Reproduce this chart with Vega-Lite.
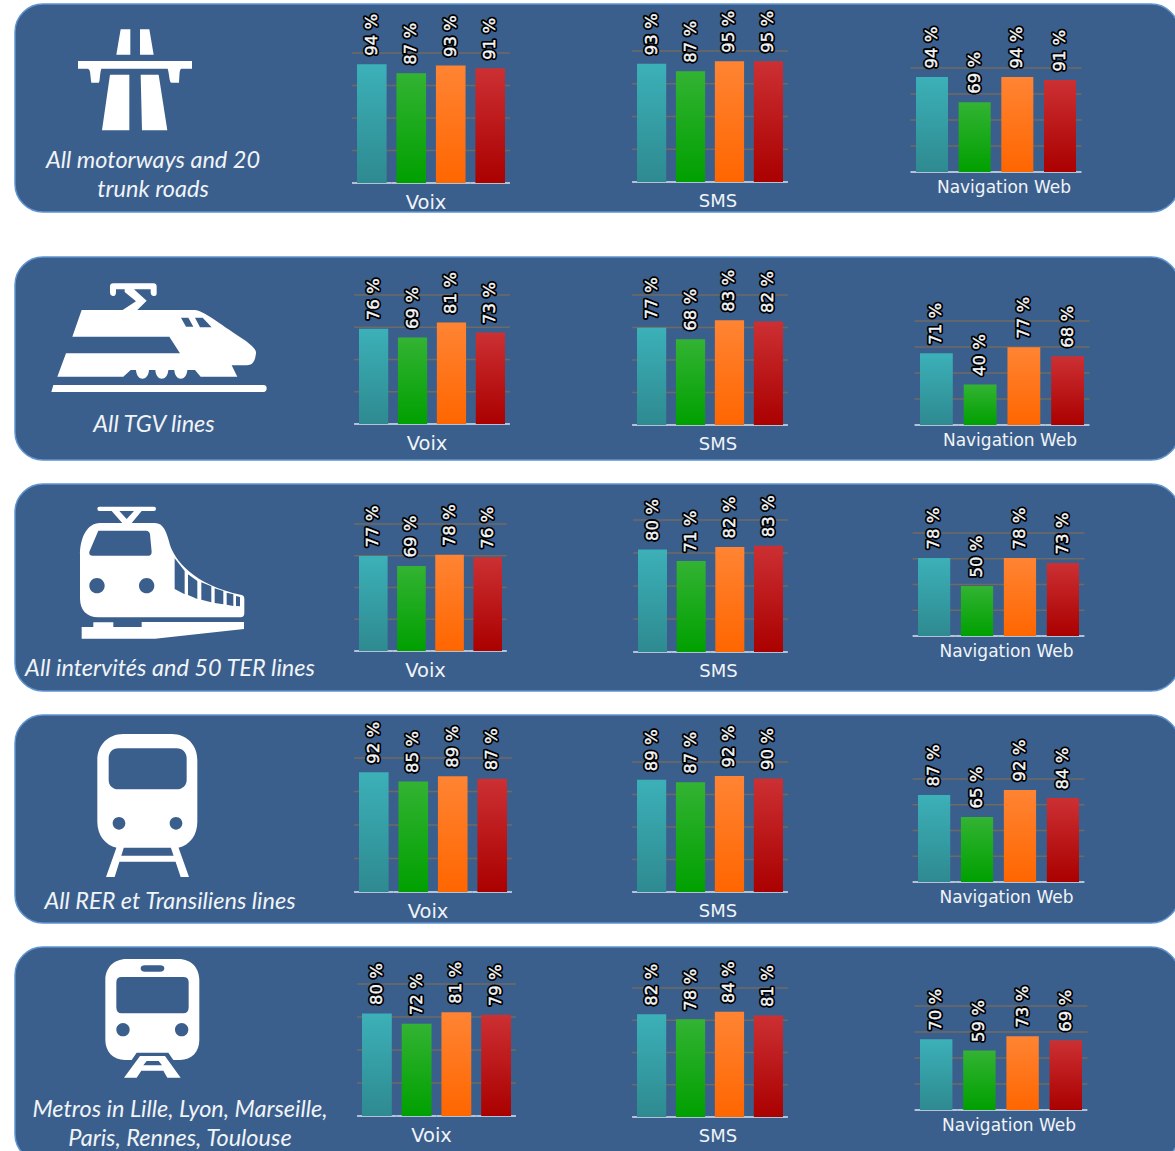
{"$schema":"https://vega.github.io/schema/vega-lite/v6.json","padding":{"left":14,"top":3,"right":0,"bottom":0},"background":"white","bounds":"flush","spacing":45,
"params":[{"name":"g1","expr":"{gradient:'linear',x1:0,y1:0,x2:0,y2:1,stops:[{offset:0,color:'#3cb0b8'},{offset:1,color:'#2e8a90'}]}"},{"name":"g2","expr":"{gradient:'linear',x1:0,y1:0,x2:0,y2:1,stops:[{offset:0,color:'#33b333'},{offset:1,color:'#00a000'}]}"},{"name":"g3","expr":"{gradient:'linear',x1:0,y1:0,x2:0,y2:1,stops:[{offset:0,color:'#ff8433'},{offset:1,color:'#ff6600'}]}"},{"name":"g4","expr":"{gradient:'linear',x1:0,y1:0,x2:0,y2:1,stops:[{offset:0,color:'#cc3033'},{offset:1,color:'#aa0000'}]}"}],
"config":{"axis":{"disable":true},"legend":{"disable":true},"view":{"fill":"#3b5f8c","stroke":"#5f94cf","strokeWidth":1.5,"cornerRadius":28},"tick":{"thickness":1.5,"opacity":1},"point":{"filled":true,"opacity":1,"color":"white","size":0.4444},"text":{"color":"#f0f4f8"},
"style":{"halo":{"font":"DejaVu Sans","fontSize":16.5,"stroke":"black","strokeWidth":4,"strokeJoin":"round","angle":270,"align":"left","baseline":"middle","dx":8.5},"val":{"font":"DejaVu Sans","fontSize":16.5,"stroke":"white","strokeWidth":0.4,"angle":270,"align":"left","baseline":"middle","dx":8.5},"tV":{"font":"DejaVu Sans","fontSize":19.5,"align":"center","baseline":"middle","dx":-5,"dy":20},"tS":{"font":"DejaVu Sans","fontSize":18,"align":"center","baseline":"middle","dx":8,"dy":20},"tW":{"font":"DejaVu Sans","fontSize":17,"align":"center","baseline":"middle","dx":8,"dy":16},"cap":{"font":"Lato","fontSize":23.5,"fontStyle":"italic","align":"center","baseline":"middle","lineBreak":"|","lineHeight":29}}},
"datasets":{"grid":[{"op":"Bouygues","level":0},{"op":"Free","level":0},{"op":"Orange","level":0},{"op":"SFR","level":0},{"op":"Bouygues","level":25.75},{"op":"Free","level":25.75},{"op":"Orange","level":25.75},{"op":"SFR","level":25.75},{"op":"Bouygues","level":51.5},{"op":"Free","level":51.5},{"op":"Orange","level":51.5},{"op":"SFR","level":51.5},{"op":"Bouygues","level":77.25},{"op":"Free","level":77.25},{"op":"Orange","level":77.25},{"op":"SFR","level":77.25},{"op":"Bouygues","level":103},{"op":"Free","level":103},{"op":"Orange","level":103},{"op":"SFR","level":103}],
"r1":[{"metric":"Voix","op":"Bouygues","value":94},{"metric":"Voix","op":"Free","value":87},{"metric":"Voix","op":"Orange","value":93},{"metric":"Voix","op":"SFR","value":91},{"metric":"SMS","op":"Bouygues","value":93},{"metric":"SMS","op":"Free","value":87},{"metric":"SMS","op":"Orange","value":95},{"metric":"SMS","op":"SFR","value":95},{"metric":"Web","op":"Bouygues","value":94},{"metric":"Web","op":"Free","value":69},{"metric":"Web","op":"Orange","value":94},{"metric":"Web","op":"SFR","value":91}],
"r2":[{"metric":"Voix","op":"Bouygues","value":76},{"metric":"Voix","op":"Free","value":69},{"metric":"Voix","op":"Orange","value":81},{"metric":"Voix","op":"SFR","value":73},{"metric":"SMS","op":"Bouygues","value":77},{"metric":"SMS","op":"Free","value":68},{"metric":"SMS","op":"Orange","value":83},{"metric":"SMS","op":"SFR","value":82},{"metric":"Web","op":"Bouygues","value":71},{"metric":"Web","op":"Free","value":40},{"metric":"Web","op":"Orange","value":77},{"metric":"Web","op":"SFR","value":68}],
"r3":[{"metric":"Voix","op":"Bouygues","value":77},{"metric":"Voix","op":"Free","value":69},{"metric":"Voix","op":"Orange","value":78},{"metric":"Voix","op":"SFR","value":76},{"metric":"SMS","op":"Bouygues","value":80},{"metric":"SMS","op":"Free","value":71},{"metric":"SMS","op":"Orange","value":82},{"metric":"SMS","op":"SFR","value":83},{"metric":"Web","op":"Bouygues","value":78},{"metric":"Web","op":"Free","value":50},{"metric":"Web","op":"Orange","value":78},{"metric":"Web","op":"SFR","value":73}],
"r4":[{"metric":"Voix","op":"Bouygues","value":92},{"metric":"Voix","op":"Free","value":85},{"metric":"Voix","op":"Orange","value":89},{"metric":"Voix","op":"SFR","value":87},{"metric":"SMS","op":"Bouygues","value":89},{"metric":"SMS","op":"Free","value":87},{"metric":"SMS","op":"Orange","value":92},{"metric":"SMS","op":"SFR","value":90},{"metric":"Web","op":"Bouygues","value":87},{"metric":"Web","op":"Free","value":65},{"metric":"Web","op":"Orange","value":92},{"metric":"Web","op":"SFR","value":84}],
"r5":[{"metric":"Voix","op":"Bouygues","value":80},{"metric":"Voix","op":"Free","value":72},{"metric":"Voix","op":"Orange","value":81},{"metric":"Voix","op":"SFR","value":79},{"metric":"SMS","op":"Bouygues","value":82},{"metric":"SMS","op":"Free","value":78},{"metric":"SMS","op":"Orange","value":84},{"metric":"SMS","op":"SFR","value":81},{"metric":"Web","op":"Bouygues","value":70},{"metric":"Web","op":"Free","value":59},{"metric":"Web","op":"Orange","value":73},{"metric":"Web","op":"SFR","value":69}]},
"vconcat":[
{"width":1164,"height":208,"data":{"values":[{"label":"All motorways and 20|trunk roads"}]},"resolve":{"scale":{"x":"independent","y":"independent"}},"layer":[
{"mark":{"type":"point","shape":"M272 58H301V134H259Z M330 58H358L371 134H330Z M144 153H486V176H455C448 176 449 190 447 218H424C418 218 418 190 413 176H214C209 190 210 218 206 218H184C180 190 182 176 172 176H144Z M240 194H298V361H216Z M332 194H386L412 361H336Z"},"encoding":{"x":{"field":"label","type":"nominal","scale":{"type":"point","range":[5,25]}},"y":{"field":"label","type":"nominal","scale":{"type":"point","range":[-4,16]}}}},
{"mark":{"type":"text","style":"cap"},"encoding":{"text":{"field":"label"},"x":{"field":"label","type":"nominal","scale":{"type":"point","range":[128,148]}},"y":{"field":"label","type":"nominal","scale":{"type":"point","range":[147,167]}}}},
{"data":{"name":"r1"},"transform":[{"filter":"datum.metric=='Voix'"},{"calculate":"datum.value+' %'","as":"label"}],"encoding":{"x":{"field":"op","type":"nominal","scale":{"type":"band","range":[342,490],"paddingInner":0.25,"paddingOuter":0}},"y":{"field":"value","type":"quantitative","stack":null,"scale":{"domain":[0,103],"range":[179,49],"nice":false}}},"layer":[
{"data":{"name":"grid"},"mark":{"type":"tick","size":39.5},"encoding":{"y":{"field":"level","type":"quantitative"},"color":{"condition":{"test":"datum.level==0","value":"#dbe4ef"},"value":"#6f6a62"}}},
{"mark":"bar","encoding":{"fill":{"field":"op","type":"nominal","scale":{"range":[{"expr":"g1"},{"expr":"g2"},{"expr":"g3"},{"expr":"g4"}]}}}},
{"mark":{"type":"text","style":"halo","fill":"black"},"encoding":{"text":{"field":"label"}}},
{"mark":{"type":"text","style":"val"},"encoding":{"text":{"field":"label"}}},
{"data":{"name":"grid"},"transform":[{"filter":"datum.level==0&&datum.op=='Free'"}],"mark":{"type":"text","style":"tV"},"encoding":{"text":{"value":"Voix"},"y":{"field":"level","type":"quantitative"},"x":{"field":"op","type":"nominal","bandPosition":1.1667,"scale":{"type":"band"}}}}]},
{"data":{"name":"r1"},"transform":[{"filter":"datum.metric=='SMS'"},{"calculate":"datum.value+' %'","as":"label"}],"encoding":{"x":{"field":"op","type":"nominal","scale":{"type":"band","range":[622,768],"paddingInner":0.25,"paddingOuter":0}},"y":{"field":"value","type":"quantitative","stack":null,"scale":{"domain":[0,103],"range":[178,47],"nice":false}}},"layer":[
{"data":{"name":"grid"},"mark":{"type":"tick","size":39},"encoding":{"y":{"field":"level","type":"quantitative"},"color":{"condition":{"test":"datum.level==0","value":"#dbe4ef"},"value":"#6f6a62"}}},
{"mark":"bar","encoding":{"fill":{"field":"op","type":"nominal"}}},
{"mark":{"type":"text","style":"halo","fill":"black"},"encoding":{"text":{"field":"label"}}},
{"mark":{"type":"text","style":"val"},"encoding":{"text":{"field":"label"}}},
{"data":{"name":"grid"},"transform":[{"filter":"datum.level==0&&datum.op=='Free'"}],"mark":{"type":"text","style":"tS"},"encoding":{"text":{"value":"SMS"},"y":{"field":"level","type":"quantitative"},"x":{"field":"op","type":"nominal","bandPosition":1.1667,"scale":{"type":"band"}}}}]},
{"data":{"name":"r1"},"transform":[{"filter":"datum.metric=='Web'"},{"calculate":"datum.value+' %'","as":"label"}],"encoding":{"x":{"field":"op","type":"nominal","scale":{"type":"band","range":[901,1061],"paddingInner":0.25,"paddingOuter":0}},"y":{"field":"value","type":"quantitative","stack":null,"scale":{"domain":[0,103],"range":[168,64],"nice":false}}},"layer":[
{"data":{"name":"grid"},"mark":{"type":"tick","size":43},"encoding":{"y":{"field":"level","type":"quantitative"},"color":{"condition":{"test":"datum.level==0","value":"#dbe4ef"},"value":"#6f6a62"}}},
{"mark":"bar","encoding":{"fill":{"field":"op","type":"nominal"}}},
{"mark":{"type":"text","style":"halo","fill":"black"},"encoding":{"text":{"field":"label"}}},
{"mark":{"type":"text","style":"val"},"encoding":{"text":{"field":"label"}}},
{"data":{"name":"grid"},"transform":[{"filter":"datum.level==0&&datum.op=='Free'"}],"mark":{"type":"text","style":"tW"},"encoding":{"text":{"value":"Navigation Web"},"y":{"field":"level","type":"quantitative"},"x":{"field":"op","type":"nominal","bandPosition":1.1667,"scale":{"type":"band"}}}}]}]},
{"bounds":"flush","spacing":24,"vconcat":[
{"width":1164,"height":203,"data":{"values":[{"label":"All TGV lines"}]},"resolve":{"scale":{"x":"independent","y":"independent"}},"layer":[
{"mark":{"type":"point","shape":"M250 40H370Q380 40 380 50V70Q380 80 370 78Q362 76 362 66V58H312L350 92L322 120H278L318 94L284 66V58H258V66Q258 80 248 78Q240 76 240 68V50Q240 40 250 40Z M155 120H495C520 122 560 155 640 208C665 225 680 240 678 250C675 275 668 286 650 286H605L622 320H512L495 300H472C470 335 435 335 433 300H415C413 335 378 335 376 300H357C355 335 320 335 318 300H302L280 320H82L108 250H450L418 200H127Z M453 143L468 170H490L475 143Z M495 143L510 172H545L518 143Z M70 345H700Q710 345 710 355Q710 366 700 366H64Z"},"encoding":{"x":{"field":"label","type":"nominal","scale":{"type":"point","range":[5,25]}},"y":{"field":"label","type":"nominal","scale":{"type":"point","range":[3,23]}}}},
{"mark":{"type":"text","style":"cap"},"encoding":{"text":{"field":"label"},"x":{"field":"label","type":"nominal","scale":{"type":"point","range":[129,149]}},"y":{"field":"label","type":"nominal","scale":{"type":"point","range":[158,178]}}}},
{"data":{"name":"r2"},"transform":[{"filter":"datum.metric=='Voix'"},{"calculate":"datum.value+' %'","as":"label"}],"encoding":{"x":{"field":"op","type":"nominal","scale":{"type":"band","range":[344,490],"paddingInner":0.25,"paddingOuter":0}},"y":{"field":"value","type":"quantitative","stack":null,"scale":{"domain":[0,103],"range":[167,38],"nice":false}}},"layer":[
{"data":{"name":"grid"},"mark":{"type":"tick","size":39},"encoding":{"y":{"field":"level","type":"quantitative"},"color":{"condition":{"test":"datum.level==0","value":"#dbe4ef"},"value":"#6f6a62"}}},
{"mark":"bar","encoding":{"fill":{"field":"op","type":"nominal","scale":{"range":[{"expr":"g1"},{"expr":"g2"},{"expr":"g3"},{"expr":"g4"}]}}}},
{"mark":{"type":"text","style":"halo","fill":"black"},"encoding":{"text":{"field":"label"}}},
{"mark":{"type":"text","style":"val"},"encoding":{"text":{"field":"label"}}},
{"data":{"name":"grid"},"transform":[{"filter":"datum.level==0&&datum.op=='Free'"}],"mark":{"type":"text","style":"tV"},"encoding":{"text":{"value":"Voix"},"y":{"field":"level","type":"quantitative"},"x":{"field":"op","type":"nominal","bandPosition":1.1667,"scale":{"type":"band"}}}}]},
{"data":{"name":"r2"},"transform":[{"filter":"datum.metric=='SMS'"},{"calculate":"datum.value+' %'","as":"label"}],"encoding":{"x":{"field":"op","type":"nominal","scale":{"type":"band","range":[622,768],"paddingInner":0.25,"paddingOuter":0}},"y":{"field":"value","type":"quantitative","stack":null,"scale":{"domain":[0,103],"range":[168,38],"nice":false}}},"layer":[
{"data":{"name":"grid"},"mark":{"type":"tick","size":39},"encoding":{"y":{"field":"level","type":"quantitative"},"color":{"condition":{"test":"datum.level==0","value":"#dbe4ef"},"value":"#6f6a62"}}},
{"mark":"bar","encoding":{"fill":{"field":"op","type":"nominal"}}},
{"mark":{"type":"text","style":"halo","fill":"black"},"encoding":{"text":{"field":"label"}}},
{"mark":{"type":"text","style":"val"},"encoding":{"text":{"field":"label"}}},
{"data":{"name":"grid"},"transform":[{"filter":"datum.level==0&&datum.op=='Free'"}],"mark":{"type":"text","style":"tS"},"encoding":{"text":{"value":"SMS"},"y":{"field":"level","type":"quantitative"},"x":{"field":"op","type":"nominal","bandPosition":1.1667,"scale":{"type":"band"}}}}]},
{"data":{"name":"r2"},"transform":[{"filter":"datum.metric=='Web'"},{"calculate":"datum.value+' %'","as":"label"}],"encoding":{"x":{"field":"op","type":"nominal","scale":{"type":"band","range":[905,1069],"paddingInner":0.25,"paddingOuter":0}},"y":{"field":"value","type":"quantitative","stack":null,"scale":{"domain":[0,103],"range":[168,64],"nice":false}}},"layer":[
{"data":{"name":"grid"},"mark":{"type":"tick","size":43.7},"encoding":{"y":{"field":"level","type":"quantitative"},"color":{"condition":{"test":"datum.level==0","value":"#dbe4ef"},"value":"#6f6a62"}}},
{"mark":"bar","encoding":{"fill":{"field":"op","type":"nominal"}}},
{"mark":{"type":"text","style":"halo","fill":"black"},"encoding":{"text":{"field":"label"}}},
{"mark":{"type":"text","style":"val"},"encoding":{"text":{"field":"label"}}},
{"data":{"name":"grid"},"transform":[{"filter":"datum.level==0&&datum.op=='Free'"}],"mark":{"type":"text","style":"tW"},"encoding":{"text":{"value":"Navigation Web"},"y":{"field":"level","type":"quantitative"},"x":{"field":"op","type":"nominal","bandPosition":1.1667,"scale":{"type":"band"}}}}]}]},
{"width":1164,"height":207,"data":{"values":[{"label":"All intervités and 50 TER lines"}]},"resolve":{"scale":{"x":"independent","y":"independent"}},"layer":[
{"mark":{"type":"point","shape":"M118 35H282Q288 35 288 41Q288 48 282 48H118Q112 48 112 41Q112 35 118 35Z M155 48H245L212 88H190Z M178 48L200 72L222 48Z M120 84H285C310 84 320 110 330 150C345 195 400 270 545 300Q553 302 553 312V355Q553 367 541 367H115C80 367 60 345 60 310V180C60 130 80 84 120 84Z M115 107L88 170Q86 182 98 182H265Q275 182 275 170L270 118Q268 107 258 107Z M88 272A23 23 0 0 0 134 272A23 23 0 0 0 88 272Z M237 272A23 23 0 0 0 283 272A23 23 0 0 0 237 272Z M344 190V282L374 298V228Z M384 238V300L412 312V258Z M424 262V314L454 322V274Z M464 280V324L490 328V288Z M500 293V329L520 333V298Z M528 303V333L540 334V306Z M100 382H160V396H245V381H552V402L285 431H65V396H100Z"},"encoding":{"x":{"field":"label","type":"nominal","scale":{"type":"point","range":[35,55]}},"y":{"field":"label","type":"nominal","scale":{"type":"point","range":[1,21]}}}},
{"mark":{"type":"text","style":"cap"},"encoding":{"text":{"field":"label"},"x":{"field":"label","type":"nominal","scale":{"type":"point","range":[145,165]}},"y":{"field":"label","type":"nominal","scale":{"type":"point","range":[175,195]}}}},
{"data":{"name":"r3"},"transform":[{"filter":"datum.metric=='Voix'"},{"calculate":"datum.value+' %'","as":"label"}],"encoding":{"x":{"field":"op","type":"nominal","scale":{"type":"band","range":[344,487],"paddingInner":0.25,"paddingOuter":0}},"y":{"field":"value","type":"quantitative","stack":null,"scale":{"domain":[0,103],"range":[167,40],"nice":false}}},"layer":[
{"data":{"name":"grid"},"mark":{"type":"tick","size":38.2},"encoding":{"y":{"field":"level","type":"quantitative"},"color":{"condition":{"test":"datum.level==0","value":"#dbe4ef"},"value":"#6f6a62"}}},
{"mark":"bar","encoding":{"fill":{"field":"op","type":"nominal","scale":{"range":[{"expr":"g1"},{"expr":"g2"},{"expr":"g3"},{"expr":"g4"}]}}}},
{"mark":{"type":"text","style":"halo","fill":"black"},"encoding":{"text":{"field":"label"}}},
{"mark":{"type":"text","style":"val"},"encoding":{"text":{"field":"label"}}},
{"data":{"name":"grid"},"transform":[{"filter":"datum.level==0&&datum.op=='Free'"}],"mark":{"type":"text","style":"tV"},"encoding":{"text":{"value":"Voix"},"y":{"field":"level","type":"quantitative"},"x":{"field":"op","type":"nominal","bandPosition":1.1667,"scale":{"type":"band"}}}}]},
{"data":{"name":"r3"},"transform":[{"filter":"datum.metric=='SMS'"},{"calculate":"datum.value+' %'","as":"label"}],"encoding":{"x":{"field":"op","type":"nominal","scale":{"type":"band","range":[623,768],"paddingInner":0.25,"paddingOuter":0}},"y":{"field":"value","type":"quantitative","stack":null,"scale":{"domain":[0,103],"range":[168,36],"nice":false}}},"layer":[
{"data":{"name":"grid"},"mark":{"type":"tick","size":38.7},"encoding":{"y":{"field":"level","type":"quantitative"},"color":{"condition":{"test":"datum.level==0","value":"#dbe4ef"},"value":"#6f6a62"}}},
{"mark":"bar","encoding":{"fill":{"field":"op","type":"nominal"}}},
{"mark":{"type":"text","style":"halo","fill":"black"},"encoding":{"text":{"field":"label"}}},
{"mark":{"type":"text","style":"val"},"encoding":{"text":{"field":"label"}}},
{"data":{"name":"grid"},"transform":[{"filter":"datum.level==0&&datum.op=='Free'"}],"mark":{"type":"text","style":"tS"},"encoding":{"text":{"value":"SMS"},"y":{"field":"level","type":"quantitative"},"x":{"field":"op","type":"nominal","bandPosition":1.1667,"scale":{"type":"band"}}}}]},
{"data":{"name":"r3"},"transform":[{"filter":"datum.metric=='Web'"},{"calculate":"datum.value+' %'","as":"label"}],"encoding":{"x":{"field":"op","type":"nominal","scale":{"type":"band","range":[903,1064],"paddingInner":0.25,"paddingOuter":0}},"y":{"field":"value","type":"quantitative","stack":null,"scale":{"domain":[0,103],"range":[152,49],"nice":false}}},"layer":[
{"data":{"name":"grid"},"mark":{"type":"tick","size":43},"encoding":{"y":{"field":"level","type":"quantitative"},"color":{"condition":{"test":"datum.level==0","value":"#dbe4ef"},"value":"#6f6a62"}}},
{"mark":"bar","encoding":{"fill":{"field":"op","type":"nominal"}}},
{"mark":{"type":"text","style":"halo","fill":"black"},"encoding":{"text":{"field":"label"}}},
{"mark":{"type":"text","style":"val"},"encoding":{"text":{"field":"label"}}},
{"data":{"name":"grid"},"transform":[{"filter":"datum.level==0&&datum.op=='Free'"}],"mark":{"type":"text","style":"tW"},"encoding":{"text":{"value":"Navigation Web"},"y":{"field":"level","type":"quantitative"},"x":{"field":"op","type":"nominal","bandPosition":1.1667,"scale":{"type":"band"}}}}]}]},
{"width":1164,"height":208,"data":{"values":[{"label":"All RER et Transiliens lines"}]},"resolve":{"scale":{"x":"independent","y":"independent"}},"layer":[
{"mark":{"type":"point","shape":"M130 27H275C320 27 352 60 352 105V290C352 330 330 360 295 368H110C75 360 52 330 52 290V105C52 60 85 27 130 27Z M115 70C98 70 86 82 86 100V165C86 182 98 193 115 193H290C307 193 320 182 320 165V100C320 82 307 70 290 70Z M98 295A19 19 0 0 0 136 295A19 19 0 0 0 98 295Z M269 295A19 19 0 0 0 307 295A19 19 0 0 0 269 295Z M110 366H132L104 456H78Z M272 366H295L327 456H302Z M122 392H285L291 410H116Z"},"encoding":{"x":{"field":"label","type":"nominal","scale":{"type":"point","range":[55,75]}},"y":{"field":"label","type":"nominal","scale":{"type":"point","range":[0,20]}}}},
{"mark":{"type":"text","style":"cap"},"encoding":{"text":{"field":"label"},"x":{"field":"label","type":"nominal","scale":{"type":"point","range":[145,165]}},"y":{"field":"label","type":"nominal","scale":{"type":"point","range":[177,197]}}}},
{"data":{"name":"r4"},"transform":[{"filter":"datum.metric=='Voix'"},{"calculate":"datum.value+' %'","as":"label"}],"encoding":{"x":{"field":"op","type":"nominal","scale":{"type":"band","range":[344,492],"paddingInner":0.25,"paddingOuter":0}},"y":{"field":"value","type":"quantitative","stack":null,"scale":{"domain":[0,103],"range":[177,43],"nice":false}}},"layer":[
{"data":{"name":"grid"},"mark":{"type":"tick","size":39.5},"encoding":{"y":{"field":"level","type":"quantitative"},"color":{"condition":{"test":"datum.level==0","value":"#dbe4ef"},"value":"#6f6a62"}}},
{"mark":"bar","encoding":{"fill":{"field":"op","type":"nominal","scale":{"range":[{"expr":"g1"},{"expr":"g2"},{"expr":"g3"},{"expr":"g4"}]}}}},
{"mark":{"type":"text","style":"halo","fill":"black"},"encoding":{"text":{"field":"label"}}},
{"mark":{"type":"text","style":"val"},"encoding":{"text":{"field":"label"}}},
{"data":{"name":"grid"},"transform":[{"filter":"datum.level==0&&datum.op=='Free'"}],"mark":{"type":"text","style":"tV"},"encoding":{"text":{"value":"Voix"},"y":{"field":"level","type":"quantitative"},"x":{"field":"op","type":"nominal","bandPosition":1.1667,"scale":{"type":"band"}}}}]},
{"data":{"name":"r4"},"transform":[{"filter":"datum.metric=='SMS'"},{"calculate":"datum.value+' %'","as":"label"}],"encoding":{"x":{"field":"op","type":"nominal","scale":{"type":"band","range":[622,768],"paddingInner":0.25,"paddingOuter":0}},"y":{"field":"value","type":"quantitative","stack":null,"scale":{"domain":[0,103],"range":[177,47],"nice":false}}},"layer":[
{"data":{"name":"grid"},"mark":{"type":"tick","size":39},"encoding":{"y":{"field":"level","type":"quantitative"},"color":{"condition":{"test":"datum.level==0","value":"#dbe4ef"},"value":"#6f6a62"}}},
{"mark":"bar","encoding":{"fill":{"field":"op","type":"nominal"}}},
{"mark":{"type":"text","style":"halo","fill":"black"},"encoding":{"text":{"field":"label"}}},
{"mark":{"type":"text","style":"val"},"encoding":{"text":{"field":"label"}}},
{"data":{"name":"grid"},"transform":[{"filter":"datum.level==0&&datum.op=='Free'"}],"mark":{"type":"text","style":"tS"},"encoding":{"text":{"value":"SMS"},"y":{"field":"level","type":"quantitative"},"x":{"field":"op","type":"nominal","bandPosition":1.1667,"scale":{"type":"band"}}}}]},
{"data":{"name":"r4"},"transform":[{"filter":"datum.metric=='Web'"},{"calculate":"datum.value+' %'","as":"label"}],"encoding":{"x":{"field":"op","type":"nominal","scale":{"type":"band","range":[903,1064],"paddingInner":0.25,"paddingOuter":0}},"y":{"field":"value","type":"quantitative","stack":null,"scale":{"domain":[0,103],"range":[167,64],"nice":false}}},"layer":[
{"data":{"name":"grid"},"mark":{"type":"tick","size":43},"encoding":{"y":{"field":"level","type":"quantitative"},"color":{"condition":{"test":"datum.level==0","value":"#dbe4ef"},"value":"#6f6a62"}}},
{"mark":"bar","encoding":{"fill":{"field":"op","type":"nominal"}}},
{"mark":{"type":"text","style":"halo","fill":"black"},"encoding":{"text":{"field":"label"}}},
{"mark":{"type":"text","style":"val"},"encoding":{"text":{"field":"label"}}},
{"data":{"name":"grid"},"transform":[{"filter":"datum.level==0&&datum.op=='Free'"}],"mark":{"type":"text","style":"tW"},"encoding":{"text":{"value":"Navigation Web"},"y":{"field":"level","type":"quantitative"},"x":{"field":"op","type":"nominal","bandPosition":1.1667,"scale":{"type":"band"}}}}]}]},
{"width":1164,"height":215,"data":{"values":[{"label":"Metros in Lille, Lyon, Marseille,|Paris, Rennes, Toulouse"}]},"resolve":{"scale":{"x":"independent","y":"independent"}},"layer":[
{"mark":{"type":"point","shape":"M110 27H265C305 27 328 55 328 90V270C328 305 305 330 270 330H250L235 308H140L125 330H105C70 330 46 305 46 270V90C46 55 70 27 110 27Z M165 46Q152 46 152 55Q152 65 165 65H210Q223 65 223 55Q223 46 210 46Z M95 81Q79 81 79 97V172Q79 190 95 190H280Q296 190 296 172V97Q296 81 280 81Z M79 239A20 20 0 0 0 119 239A20 20 0 0 0 79 239Z M255 239A20 20 0 0 0 295 239A20 20 0 0 0 255 239Z M150 318H225L272 383H232L220 362H154L140 383H102Z M170 333L160 346H216L206 333Z"},"encoding":{"x":{"field":"label","type":"nominal","scale":{"type":"point","range":[65,85]}},"y":{"field":"label","type":"nominal","scale":{"type":"point","range":[-7,13]}}}},
{"mark":{"type":"text","style":"cap"},"encoding":{"text":{"field":"label"},"x":{"field":"label","type":"nominal","scale":{"type":"point","range":[155,175]}},"y":{"field":"label","type":"nominal","scale":{"type":"point","range":[153,173]}}}},
{"data":{"name":"r5"},"transform":[{"filter":"datum.metric=='Voix'"},{"calculate":"datum.value+' %'","as":"label"}],"encoding":{"x":{"field":"op","type":"nominal","scale":{"type":"band","range":[347,496],"paddingInner":0.25,"paddingOuter":0}},"y":{"field":"value","type":"quantitative","stack":null,"scale":{"domain":[0,103],"range":[169,37],"nice":false}}},"layer":[
{"data":{"name":"grid"},"mark":{"type":"tick","size":39.7},"encoding":{"y":{"field":"level","type":"quantitative"},"color":{"condition":{"test":"datum.level==0","value":"#dbe4ef"},"value":"#6f6a62"}}},
{"mark":"bar","encoding":{"fill":{"field":"op","type":"nominal","scale":{"range":[{"expr":"g1"},{"expr":"g2"},{"expr":"g3"},{"expr":"g4"}]}}}},
{"mark":{"type":"text","style":"halo","fill":"black"},"encoding":{"text":{"field":"label"}}},
{"mark":{"type":"text","style":"val"},"encoding":{"text":{"field":"label"}}},
{"data":{"name":"grid"},"transform":[{"filter":"datum.level==0&&datum.op=='Free'"}],"mark":{"type":"text","style":"tV"},"encoding":{"text":{"value":"Voix"},"y":{"field":"level","type":"quantitative"},"x":{"field":"op","type":"nominal","bandPosition":1.1667,"scale":{"type":"band"}}}}]},
{"data":{"name":"r5"},"transform":[{"filter":"datum.metric=='SMS'"},{"calculate":"datum.value+' %'","as":"label"}],"encoding":{"x":{"field":"op","type":"nominal","scale":{"type":"band","range":[622,768],"paddingInner":0.25,"paddingOuter":0}},"y":{"field":"value","type":"quantitative","stack":null,"scale":{"domain":[0,103],"range":[170,41],"nice":false}}},"layer":[
{"data":{"name":"grid"},"mark":{"type":"tick","size":39},"encoding":{"y":{"field":"level","type":"quantitative"},"color":{"condition":{"test":"datum.level==0","value":"#dbe4ef"},"value":"#6f6a62"}}},
{"mark":"bar","encoding":{"fill":{"field":"op","type":"nominal"}}},
{"mark":{"type":"text","style":"halo","fill":"black"},"encoding":{"text":{"field":"label"}}},
{"mark":{"type":"text","style":"val"},"encoding":{"text":{"field":"label"}}},
{"data":{"name":"grid"},"transform":[{"filter":"datum.level==0&&datum.op=='Free'"}],"mark":{"type":"text","style":"tS"},"encoding":{"text":{"value":"SMS"},"y":{"field":"level","type":"quantitative"},"x":{"field":"op","type":"nominal","bandPosition":1.1667,"scale":{"type":"band"}}}}]},
{"data":{"name":"r5"},"transform":[{"filter":"datum.metric=='Web'"},{"calculate":"datum.value+' %'","as":"label"}],"encoding":{"x":{"field":"op","type":"nominal","scale":{"type":"band","range":[905,1067],"paddingInner":0.25,"paddingOuter":0}},"y":{"field":"value","type":"quantitative","stack":null,"scale":{"domain":[0,103],"range":[163,59],"nice":false}}},"layer":[
{"data":{"name":"grid"},"mark":{"type":"tick","size":43.2},"encoding":{"y":{"field":"level","type":"quantitative"},"color":{"condition":{"test":"datum.level==0","value":"#dbe4ef"},"value":"#6f6a62"}}},
{"mark":"bar","encoding":{"fill":{"field":"op","type":"nominal"}}},
{"mark":{"type":"text","style":"halo","fill":"black"},"encoding":{"text":{"field":"label"}}},
{"mark":{"type":"text","style":"val"},"encoding":{"text":{"field":"label"}}},
{"data":{"name":"grid"},"transform":[{"filter":"datum.level==0&&datum.op=='Free'"}],"mark":{"type":"text","style":"tW"},"encoding":{"text":{"value":"Navigation Web"},"y":{"field":"level","type":"quantitative"},"x":{"field":"op","type":"nominal","bandPosition":1.1667,"scale":{"type":"band"}}}}]}]}
]}]}
